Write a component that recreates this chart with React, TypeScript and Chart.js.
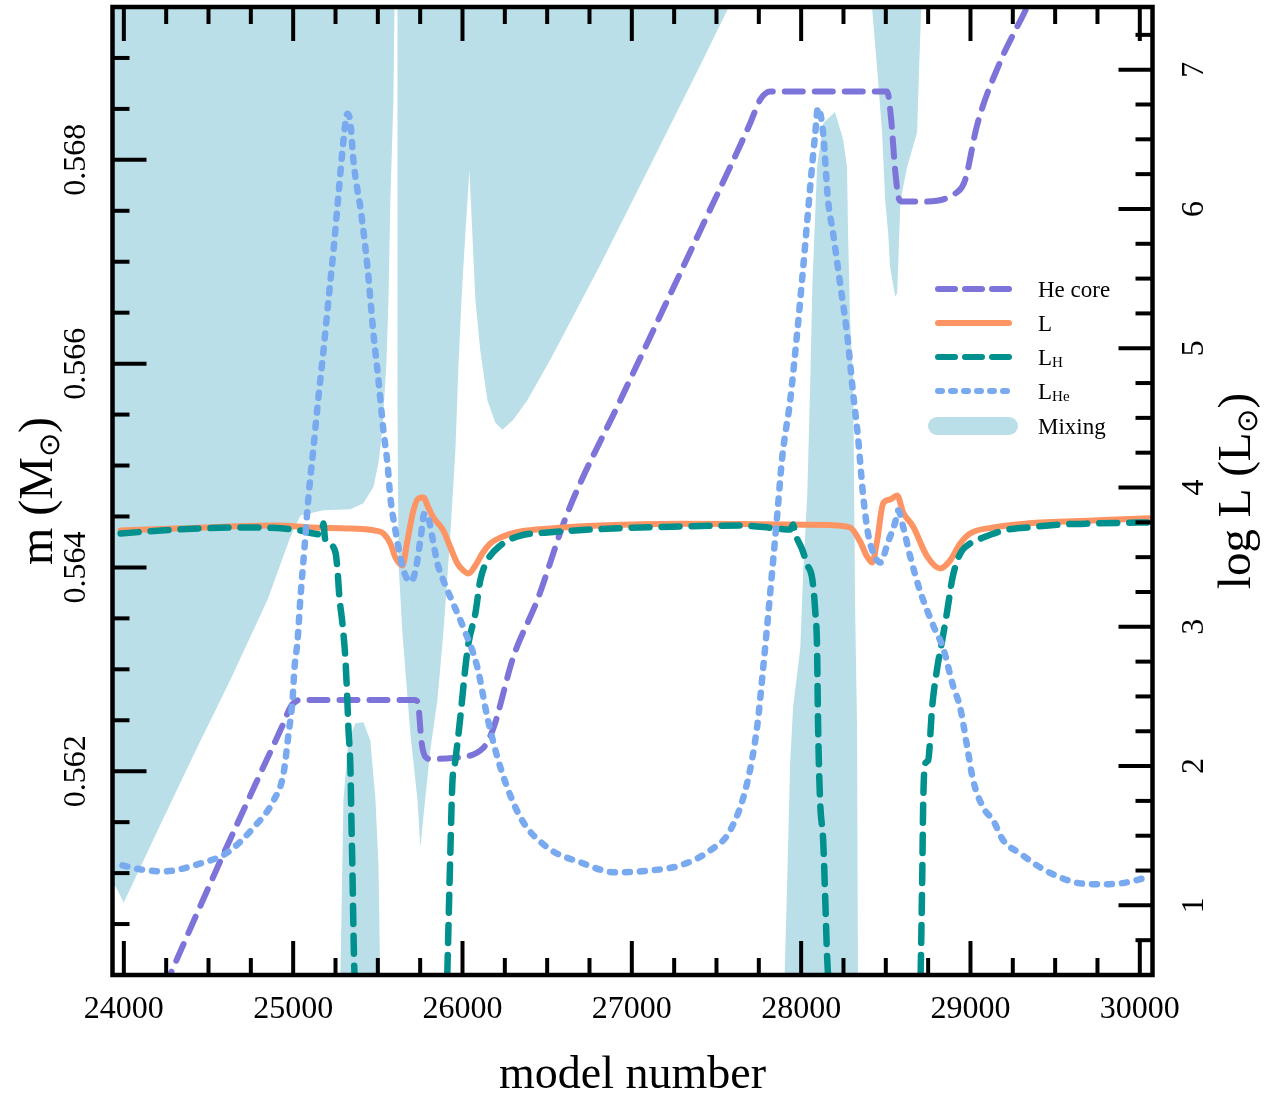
import React, { useEffect, useRef } from 'react';
import { Chart, registerables } from 'chart.js';

Chart.register(...registerables);

type P = [number, number | null];

// ---------- axis ranges & ticks ----------
const X_MIN = 23933;
const X_MAX = 30075;
const M_MIN = 0.56;
const M_MAX = 0.5695;
const LOGL_MIN = 0.5;
const LOGL_MAX = 7.45;

const X_TICKS_MAJOR = [24000, 25000, 26000, 27000, 28000, 29000, 30000];
const X_TICK_LABELS = ['24000', '25000', '26000', '27000', '28000', '29000', '30000'];
const M_TICKS_MAJOR = [0.56, 0.562, 0.564, 0.566, 0.568];
const M_TICK_LABEL_VALUES = [0.562, 0.564, 0.566, 0.568];
const M_TICK_LABELS = ['0.562', '0.564', '0.566', '0.568'];
const L_TICKS_MAJOR = [1, 2, 3, 4, 5, 6, 7];
const L_TICK_LABELS = ['1', '2', '3', '4', '5', '6', '7'];
const X_MINOR_STEP = 250;
const M_MINOR_STEP = 0.0005;
const L_MINOR_STEP = 0.25;

// ---------- series (x = model number) ----------
// He core mass (left axis, M_sun)
const HE_CORE: P[] = [
  [24240, 0.55987], [24294, 0.56008], [24554, 0.56106], [24807, 0.56198], [24943, 0.56247],
  [24984, 0.56263], [25043, 0.5627], [25721, 0.5627], [25739, 0.56265], [25757, 0.5623],
  [25781, 0.56214], [25810, 0.56212], [25940, 0.56213], [26123, 0.56223], [26182, 0.56242],
  [26300, 0.56312], [26442, 0.56368], [26619, 0.56453], [26932, 0.56564], [27405, 0.56731],
  [27699, 0.56836], [27758, 0.56859], [27817, 0.56867], [28508, 0.56867], [28532, 0.56839],
  [28555, 0.5679], [28579, 0.56761], [28602, 0.56759], [28702, 0.56759], [28927, 0.56769],
  [28968, 0.5678], [29039, 0.56834], [29175, 0.56896], [29334, 0.5695], [29400, 0.56975],
];

// total luminosity L (right axis, log L)
const LUM_TOTAL: P[] = [
  [23981, 3.691], [24318, 3.706], [24908, 3.727], [25103, 3.713], [25338, 3.706],
  [25486, 3.691], [25533, 3.67], [25574, 3.598], [25604, 3.498], [25645, 3.44],
  [25675, 3.62], [25710, 3.835], [25739, 3.921], [25769, 3.928], [25798, 3.857],
  [25828, 3.785], [25887, 3.691], [25929, 3.569], [25970, 3.455], [26005, 3.404],
  [26035, 3.383], [26076, 3.44], [26117, 3.526], [26164, 3.598], [26224, 3.641],
  [26342, 3.684], [26519, 3.706], [26814, 3.727], [27286, 3.74], [27758, 3.737],
  [28171, 3.73], [28289, 3.713], [28348, 3.612], [28389, 3.505], [28419, 3.462],
  [28448, 3.612], [28484, 3.885], [28525, 3.914], [28567, 3.943], [28602, 3.821],
  [28661, 3.72], [28744, 3.505], [28821, 3.419], [28880, 3.476], [28939, 3.598],
  [28998, 3.67], [29134, 3.713], [29334, 3.742], [29723, 3.763], [30019, 3.777], [30080, 3.78],
];

// hydrogen-burning luminosity L_H (right axis)
const LUM_H: P[] = [
  [23981, 3.67], [24318, 3.699], [24707, 3.713], [24943, 3.706], [25043, 3.691],
  [25120, 3.67], [25168, 3.663], [25179, 3.741], [25188, 3.634], [25209, 3.598],
  [25250, 3.533], [25262, 3.404], [25273, 3.211], [25291, 3.024], [25309, 2.758],
  [25320, 2.471], [25326, 2.278], [25338, 1.99], [25344, 1.61], [25350, 1.251],
  [25356, 0.82], [25362, 0.498], [25368, 0.3], [25600, null],
  [25906, 0.3], [25929, 1.416], [25940, 1.875], [25958, 2.041], [25987, 2.349],
  [26017, 2.708], [26035, 2.88], [26076, 3.096], [26105, 3.333], [26147, 3.476],
  [26224, 3.584], [26342, 3.655], [26501, 3.677], [26891, 3.706], [27286, 3.72],
  [27641, 3.727], [27835, 3.709], [27935, 3.698], [27953, 3.734], [27965, 3.67],
  [28006, 3.555], [28036, 3.447], [28066, 3.34], [28083, 3.117], [28094, 2.844],
  [28100, 2.292], [28112, 1.746], [28130, 1.466], [28142, 1.057], [28153, 0.641],
  [28171, 0.3], [28400, null],
  [28703, 0.3], [28715, 1.194], [28721, 1.746], [28733, 2.019], [28750, 2.041],
  [28774, 2.428], [28804, 2.708], [28833, 2.902], [28863, 3.117], [28892, 3.34],
  [28922, 3.476], [28951, 3.548], [28998, 3.598], [29075, 3.641], [29193, 3.691],
  [29334, 3.713], [29529, 3.734], [29723, 3.742], [30019, 3.749], [30080, 3.75],
];

// helium-burning luminosity L_He (right axis)
const LUM_HE: P[] = [
  [23992, 1.287], [24099, 1.258], [24235, 1.244], [24453, 1.301], [24612, 1.38],
  [24767, 1.56], [24885, 1.754], [24943, 1.947], [24973, 2.235], [24996, 2.471],
  [25008, 2.708], [25026, 2.902], [25043, 3.211], [25067, 3.569], [25090, 3.928],
  [25120, 4.287], [25149, 4.646], [25179, 4.983], [25208, 5.342], [25238, 5.701],
  [25267, 6.096], [25291, 6.419], [25309, 6.62], [25320, 6.684], [25338, 6.62],
  [25356, 6.347], [25380, 6.132], [25397, 6.01], [25439, 5.579], [25474, 5.105],
  [25504, 4.768], [25533, 4.409], [25557, 4.172], [25574, 3.928], [25604, 3.691],
  [25633, 3.498], [25663, 3.368], [25698, 3.325], [25728, 3.44], [25751, 3.62],
  [25775, 3.813], [25798, 3.785], [25822, 3.641], [25852, 3.455], [25887, 3.333],
  [25929, 3.211], [26005, 2.995], [26088, 2.708], [26147, 2.349], [26224, 1.99],
  [26342, 1.632], [26501, 1.416], [26696, 1.309], [26903, 1.237], [27110, 1.251],
  [27286, 1.287], [27463, 1.395], [27581, 1.538], [27682, 1.883], [27741, 2.292],
  [27776, 2.708], [27818, 3.254], [27859, 3.806], [27888, 4.215], [27935, 4.624],
  [27976, 5.105], [28012, 5.579], [28053, 6.153], [28083, 6.541], [28100, 6.727],
  [28130, 6.541], [28159, 6.06], [28189, 5.823], [28230, 5.464], [28271, 5.105],
  [28307, 4.675], [28336, 4.359], [28366, 3.943], [28395, 3.67], [28425, 3.534],
  [28467, 3.462], [28514, 3.612], [28555, 3.749], [28573, 3.835], [28602, 3.72],
  [28644, 3.505], [28703, 3.254], [28780, 3.01], [28839, 2.845], [28898, 2.572],
  [28939, 2.421], [28981, 2.134], [29016, 1.897], [29075, 1.703], [29134, 1.61],
  [29193, 1.467], [29293, 1.373], [29411, 1.273], [29529, 1.201], [29647, 1.158],
  [29783, 1.151], [29924, 1.165], [30019, 1.194],
];

// convective mixing regions (left axis), outlines of closed shapes
const MIX_A: P[] = [
  [23860, 0.5698], [25605, 0.5698], [25598, 0.56947], [25592, 0.56859], [25574, 0.56761],
  [25563, 0.56663], [25551, 0.56601], [25527, 0.56535], [25504, 0.56503], [25474, 0.56479],
  [25415, 0.56463], [25338, 0.56457], [25179, 0.56456], [25043, 0.56451], [24984, 0.5643],
  [24848, 0.56368], [24630, 0.5629], [24424, 0.5622], [24217, 0.56148], [23999, 0.56071],
  [23951, 0.56087], [23860, 0.56087],
];
const MIX_B: P[] = [
  [25616, 0.5698], [25616, 0.56947], [25616, 0.56564], [25622, 0.56404], [25645, 0.56336],
  [25692, 0.56237], [25734, 0.56172], [25751, 0.56125], [25769, 0.56155], [25810, 0.56221],
  [25852, 0.5627], [25887, 0.56336], [25929, 0.56434], [25958, 0.56515], [25976, 0.56597],
  [25994, 0.56663], [26017, 0.56728], [26041, 0.5679], [26058, 0.56728], [26076, 0.56663],
  [26105, 0.56613], [26147, 0.56564], [26194, 0.56542], [26236, 0.56535], [26300, 0.56545],
  [26383, 0.56564], [26519, 0.56604], [26814, 0.56697], [27110, 0.56795], [27405, 0.56893],
  [27570, 0.56949], [27641, 0.5698],
];
const MIX_C: P[] = [
  [25279, 0.55985], [25279, 0.56], [25297, 0.56172], [25326, 0.5623], [25368, 0.56247],
  [25415, 0.56248], [25456, 0.5623], [25486, 0.56172], [25504, 0.56106], [25515, 0.55985],
];
const MIX_D: P[] = [
  [27900, 0.55985], [27918, 0.56095], [27935, 0.56208], [27953, 0.56264], [27995, 0.56321],
  [28012, 0.56395], [28036, 0.56471], [28054, 0.56584], [28066, 0.56675], [28094, 0.56793],
  [28130, 0.56836], [28200, 0.56847], [28248, 0.5682], [28271, 0.56793], [28277, 0.56728],
  [28289, 0.56643], [28307, 0.56584], [28319, 0.56358], [28330, 0.56245], [28336, 0.55985],
];
const MIX_E: P[] = [
  [28419, 0.5698], [28419, 0.56949], [28448, 0.56891], [28478, 0.56827], [28496, 0.56761],
  [28514, 0.56728], [28525, 0.56695], [28555, 0.56666], [28567, 0.56669], [28573, 0.56695],
  [28585, 0.56754], [28596, 0.56768], [28626, 0.56793], [28685, 0.56827], [28697, 0.56891],
  [28709, 0.56949], [28709, 0.5698],
];

// ---------- styles ----------
const FONT = '"Liberation Serif", "Times New Roman", Times, serif';
const C_HECORE = '#7D74DA';
const C_L = '#FD9463';
const C_LH = '#00918E';
const C_LHE = '#79A9EF';
const C_MIX = '#BADFE8';
const DASH = [18, 12];
const DOT = [5, 10];

const pts = (a: P[]) => a.map(([x, y]) => ({ x, y }));
const steps = (a: number, b: number, s: number) => {
  const out: number[] = [];
  const n = Math.round((b - a) / s);
  for (let i = 0; i <= n; i++) out.push(+(a + i * s).toFixed(6));
  return out;
};

type Part = { t: string; size: number; dy: number };
function drawRich(ctx: CanvasRenderingContext2D, parts: Part[], cx: number, cy: number, rot: number) {
  ctx.save();
  ctx.translate(cx, cy);
  ctx.rotate(rot);
  ctx.textAlign = 'left';
  ctx.textBaseline = 'alphabetic';
  const widths = parts.map((p) => {
    ctx.font = `${p.size}px ${FONT}`;
    return ctx.measureText(p.t).width;
  });
  const total = widths.reduce((s, w) => s + w, 0);
  let x = -total / 2;
  parts.forEach((p, i) => {
    ctx.font = `${p.size}px ${FONT}`;
    ctx.fillText(p.t, x, p.dy);
    x += widths[i];
  });
  ctx.restore();
}

const decorPlugin = {
  id: 'decor',
  afterDatasetsDraw(chart: any) {
    const ctx: CanvasRenderingContext2D = chart.ctx;
    const { left, right, top, bottom } = chart.chartArea;
    const xs = chart.scales.x;
    const ym = chart.scales.yM;
    const yl = chart.scales.yL;
    const MAJ = 34;
    const MIN = 17;
    ctx.save();
    ctx.strokeStyle = '#000';
    ctx.fillStyle = '#000';
    ctx.lineCap = 'butt';
    ctx.lineWidth = 4;
    const seg = (x1: number, y1: number, x2: number, y2: number) => {
      ctx.beginPath();
      ctx.moveTo(x1, y1);
      ctx.lineTo(x2, y2);
      ctx.stroke();
    };
    // x ticks (bottom & top)
    steps(24000, 30000, X_MINOR_STEP).forEach((v) => {
      if (v <= X_MIN || v >= X_MAX) return;
      const p = xs.getPixelForValue(v);
      const len = X_TICKS_MAJOR.includes(v) ? MAJ : MIN;
      seg(p, bottom, p, bottom - len);
      seg(p, top, p, top + len);
    });
    // left ticks (mass)
    steps(M_MIN, M_MAX, M_MINOR_STEP).forEach((v) => {
      if (v <= M_MIN + 1e-7 || v >= M_MAX - 1e-7) return;
      const p = ym.getPixelForValue(v);
      const len = M_TICKS_MAJOR.some((m) => Math.abs(m - v) < 1e-7) ? MAJ : MIN;
      seg(left, p, left + len, p);
    });
    // right ticks (log L)
    steps(LOGL_MIN, 7.25, L_MINOR_STEP).forEach((v) => {
      if (v <= LOGL_MIN + 1e-7 || v >= LOGL_MAX) return;
      const p = yl.getPixelForValue(v);
      const len = L_TICKS_MAJOR.includes(v) ? MAJ : MIN;
      seg(right, p, right - len, p);
    });
    // frame
    ctx.lineWidth = 4.5;
    ctx.strokeRect(left, top, right - left, bottom - top);

    // tick labels
    ctx.font = `32px ${FONT}`;
    ctx.textAlign = 'center';
    ctx.textBaseline = 'alphabetic';
    X_TICKS_MAJOR.forEach((v, i) => {
      ctx.fillText(X_TICK_LABELS[i], xs.getPixelForValue(v), bottom + 43);
    });
    M_TICK_LABEL_VALUES.forEach((v, i) => {
      drawRich(ctx, [{ t: M_TICK_LABELS[i], size: 32, dy: 0 }], 85, ym.getPixelForValue(v), -Math.PI / 2);
    });
    L_TICKS_MAJOR.forEach((v, i) => {
      drawRich(ctx, [{ t: L_TICK_LABELS[i], size: 32, dy: 0 }], 1203, yl.getPixelForValue(v), -Math.PI / 2);
    });

    // axis titles
    drawRich(ctx, [{ t: 'model number', size: 46, dy: 0 }], (left + right) / 2, 1088, 0);
    drawRich(
      ctx,
      [
        { t: 'm (M', size: 48, dy: 0 },
        { t: '\u2299', size: 29, dy: 7 },
        { t: ')', size: 48, dy: 0 },
      ],
      52,
      (top + bottom) / 2,
      -Math.PI / 2,
    );
    drawRich(
      ctx,
      [
        { t: 'log L (L', size: 47, dy: 0 },
        { t: '\u2299', size: 29, dy: 7 },
        { t: ')', size: 47, dy: 0 },
      ],
      1250,
      (top + bottom) / 2,
      -Math.PI / 2,
    );

    // legend
    const LX0 = 938;
    const LX1 = 1009;
    const TX = 1038;
    const rows = [
      { y: 289, color: C_HECORE, dash: [17, 10], label: 'He core', sub: '' },
      { y: 323, color: C_L, dash: [] as number[], label: 'L', sub: '' },
      { y: 357, color: C_LH, dash: [17, 10], label: 'L', sub: 'H' },
      { y: 391, color: C_LHE, dash: [4, 9], label: 'L', sub: 'He' },
    ];
    ctx.lineCap = 'round';
    rows.forEach((r) => {
      ctx.strokeStyle = r.color;
      ctx.lineWidth = 6;
      ctx.setLineDash(r.dash);
      ctx.lineDashOffset = 0;
      seg(LX0, r.y, LX1, r.y);
    });
    ctx.setLineDash([]);
    ctx.strokeStyle = C_MIX;
    ctx.lineWidth = 18;
    seg(937, 426, 1009, 426);
    ctx.fillStyle = '#000';
    ctx.textAlign = 'left';
    ctx.textBaseline = 'alphabetic';
    [...rows.map((r) => ({ y: r.y, label: r.label, sub: r.sub })), { y: 426, label: 'Mixing', sub: '' }].forEach((r) => {
      ctx.font = `23px ${FONT}`;
      ctx.fillText(r.label, TX, r.y + 8);
      if (r.sub) {
        const w = ctx.measureText(r.label).width;
        ctx.font = `15px ${FONT}`;
        ctx.fillText(r.sub, TX + w, r.y + 10);
      }
    });
    ctx.restore();
  },
};

export default function App() {
  const ref = useRef<HTMLCanvasElement>(null);
  useEffect(() => {
    if (!ref.current) return;
    const mix = (d: P[]) => ({
      data: pts(d),
      yAxisID: 'yM',
      fill: 'shape',
      backgroundColor: C_MIX,
      borderColor: 'rgba(0,0,0,0)',
      borderWidth: 0,
      pointRadius: 0,
      tension: 0,
      order: 10,
    });
    const line = (d: P[], axis: string, color: string, width: number, dash: number[], order: number) => ({
      data: pts(d),
      yAxisID: axis,
      fill: false,
      borderColor: color,
      backgroundColor: color,
      borderWidth: width,
      borderDash: dash,
      borderCapStyle: 'round',
      borderJoinStyle: 'round',
      pointRadius: 0,
      cubicInterpolationMode: 'monotone',
      spanGaps: false,
      order,
    });
    const chart = new Chart(ref.current, {
      type: 'line',
      data: {
        datasets: [
          line(LUM_HE, 'yL', C_LHE, 6.5, DOT, 0),
          line(LUM_H, 'yL', C_LH, 6.5, DASH, 1),
          line(LUM_TOTAL, 'yL', C_L, 6, [], 2),
          line(HE_CORE, 'yM', C_HECORE, 6, DASH, 3),
          mix(MIX_A),
          mix(MIX_B),
          mix(MIX_C),
          mix(MIX_D),
          mix(MIX_E),
        ] as any,
      },
      options: {
        responsive: false,
        animation: false,
        events: [],
        layout: { padding: { left: 112.5, right: 121.5, top: 7, bottom: 122 } },
        plugins: { legend: { display: false }, tooltip: { enabled: false } },
        scales: {
          x: { type: 'linear', min: X_MIN, max: X_MAX, display: false },
          yM: { type: 'linear', position: 'left', min: M_MIN, max: M_MAX, display: false },
          yL: { type: 'linear', position: 'right', min: LOGL_MIN, max: LOGL_MAX, display: false },
        },
      } as any,
      plugins: [decorPlugin as any],
    });
    return () => chart.destroy();
  }, []);
  return (
    <div style={{ position: 'absolute', left: 0, top: 0, width: 1274, height: 1097, background: '#fff' }}>
      <canvas ref={ref} width={1274} height={1097} style={{ display: 'block', width: 1274, height: 1097 }} />
    </div>
  );
}
